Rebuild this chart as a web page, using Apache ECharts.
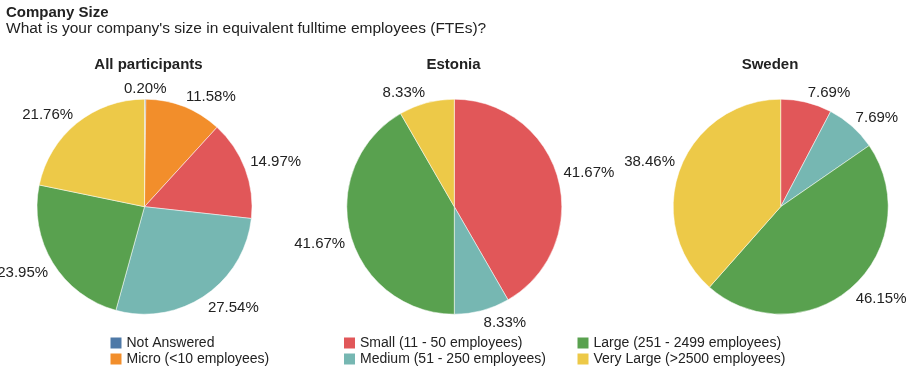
<!DOCTYPE html>
<html>
<head>
<meta charset="utf-8">
<script src="https://cdn.jsdelivr.net/npm/echarts@6/dist/echarts.min.js"></script>
<style>
  html, body { margin: 0; padding: 0; background: #fff; }
  #chart { width: 909px; height: 368px; }
</style>
</head>
<body>
<div id="chart"></div>
<script>
// ---- Data ----
const categories = [
  "Not Answered",
  "Micro (<10 employees)",
  "Small (11 - 50 employees)",
  "Medium (51 - 250 employees)",
  "Large (251 - 2499 employees)",
  "Very Large (>2500 employees)"
];
const categoryColors = ["#4e79a7", "#f28e2b", "#e15759", "#76b7b2", "#59a14f", "#edc948"];
const panelTitles = ["All participants", "Estonia", "Sweden"];
// percentages (null = not present in that group)
const allParticipants = [0.20, 11.58, 14.97, 27.54, 23.95, 21.76];
const estonia = [null, null, 41.67, 8.33, 41.67, 8.33];
const sweden = [null, null, 7.69, 7.69, 46.15, 38.46];
const chartTitle = "Company Size";
const chartSubtitle = "What is your company's size in equivalent fulltime employees (FTEs)?";

// ---- Layout ----
const FONT = "'Liberation Sans', Arial, Helvetica, sans-serif";
const TEXT = "#222";
const panelCenters = [[144.5, 206.7], [454.3, 206.7], [780.7, 206.7]];
const panelTitleX = [148.5, 453.5, 770];
const radius = 107.5;
const labelGap = 5.5;
const labelFontSize = 15;

function buildData(values) {
  const out = [];
  values.forEach((v, i) => {
    if (v === null) return;
    out.push({ name: categories[i], value: v, itemStyle: { color: categoryColors[i] } });
  });
  return out;
}

const groups = [allParticipants, estonia, sweden];
const seriesData = groups.map(buildData);

// Label anchor: point just outside the slice's mid-angle; anchor corner depends on quadrant
function labelLayoutFor(k) {
  return function (params) {
    const data = seriesData[k];
    const total = data.reduce((s, d) => s + d.value, 0);
    let before = 0;
    for (let i = 0; i < params.dataIndex; i++) before += data[i].value;
    const mid = (before + data[params.dataIndex].value / 2) / total * Math.PI * 2;
    const s = Math.sin(mid), c = Math.cos(mid);
    const r = radius + labelGap;
    const x = panelCenters[k][0] + r * s;
    let y = panelCenters[k][1] - r * c;
    const top = c > 0;
    if (top) y += labelFontSize * 0.2; // baseline sits on the anchor point
    return {
      x: x,
      y: y,
      align: Math.abs(s) < 0.05 ? 'center' : (s > 0 ? 'left' : 'right'),
      verticalAlign: top ? 'bottom' : 'top'
    };
  };
}

const series = seriesData.map((data, k) => ({
  type: 'pie',
  center: panelCenters[k],
  radius: radius,
  startAngle: 90,
  clockwise: true,
  avoidLabelOverlap: false,
  animation: false,
  itemStyle: { borderColor: '#fff', borderWidth: 0.5 },
  label: {
    show: true,
    position: 'outside',
    fontFamily: FONT,
    fontSize: labelFontSize,
    color: TEXT,
    distanceToLabelLine: 0,
    formatter: p => p.value.toFixed(2) + '%'
  },
  labelLine: { show: false, length: 6, length2: 0 },
  labelLayout: labelLayoutFor(k),
  emphasis: { disabled: true },
  data: data
}));

const titles = [
  { text: chartTitle, left: 6, top: 5, padding: 0,
    textStyle: { fontFamily: FONT, fontSize: 15, fontWeight: 'bold', color: TEXT } },
  { text: chartSubtitle, left: 6, top: 21, padding: 0,
    textStyle: { fontFamily: FONT, fontSize: 15.5, fontWeight: 'normal', color: TEXT } }
].concat(panelTitles.map((t, k) => ({
  text: t, left: panelTitleX[k], top: 57.5, padding: 0, textAlign: 'center',
  textStyle: { fontFamily: FONT, fontSize: 15, fontWeight: 'bold', color: TEXT }
})));

const legendCols = [[0, 1], [2, 3], [4, 5]];
const legendLeft = [110.5, 344, 577.5];
const legends = legendCols.map((idx, k) => ({
  orient: 'vertical',
  left: legendLeft[k],
  top: 336,
  padding: 0,
  itemWidth: 11,
  itemHeight: 11,
  itemGap: 2,
  icon: 'rect',
  selectedMode: false,
  itemStyle: { borderWidth: 0 },
  textStyle: { fontFamily: FONT, fontSize: 14, color: TEXT },
  data: idx.map(i => ({ name: categories[i], itemStyle: { color: categoryColors[i], borderWidth: 0 } }))
}));

const chart = echarts.init(document.getElementById('chart'), null, { renderer: 'canvas' });
chart.setOption({
  animation: false,
  color: categoryColors,
  title: titles,
  legend: legends,
  series: series
});
</script>
</body>
</html>
